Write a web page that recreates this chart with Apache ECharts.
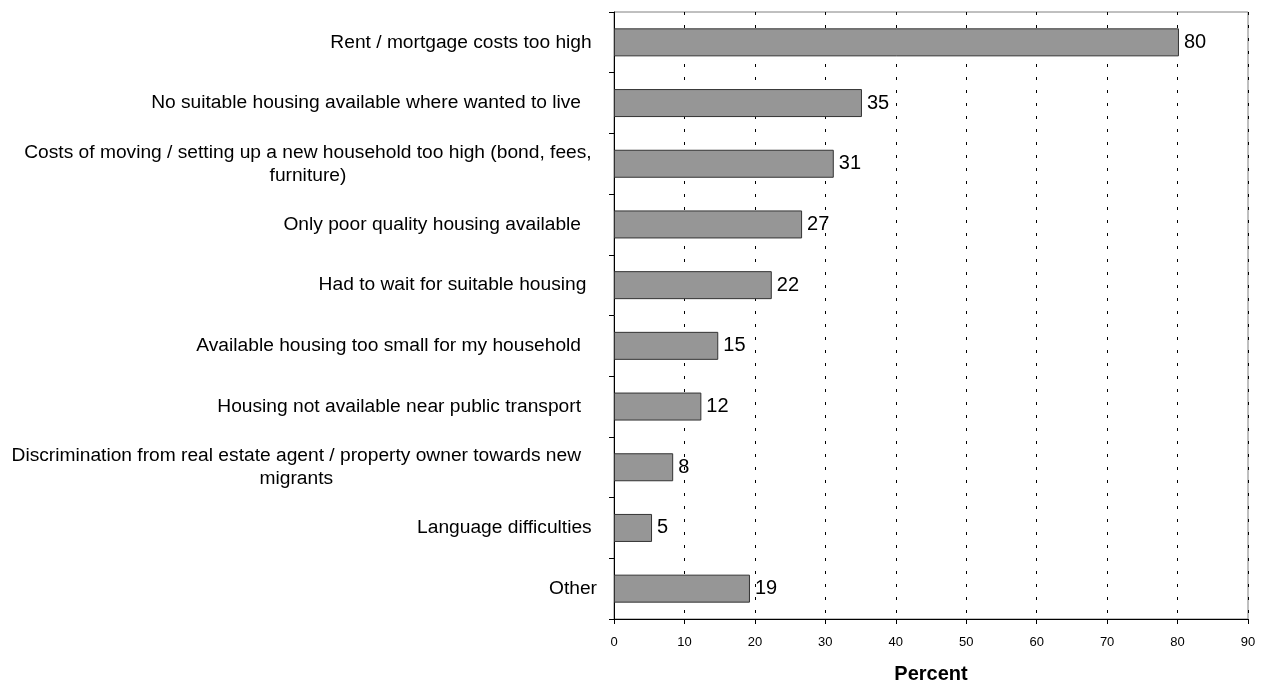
<!DOCTYPE html>
<html>
<head>
<meta charset="utf-8">
<script src="https://cdn.jsdelivr.net/npm/echarts@6/dist/echarts.min.js"></script>
<style>
html,body{margin:0;padding:0;background:#fff;}
#chart{width:1267px;height:684px;}
</style>
</head>
<body>
<div id="chart"></div>
<script>
var categories = [
  "Rent / mortgage costs too high ",
  "No suitable housing available where wanted to live   ",
  "Costs of moving / setting up a new household too high (bond, fees, \nfurniture) ",
  "Only poor quality housing available   ",
  "Had to wait for suitable housing  ",
  "Available housing too small for my household   ",
  "Housing not available near public transport   ",
  "Discrimination from real estate agent / property owner towards new   \nmigrants   ",
  "Language difficulties ",
  "Other"
];
var values = [80.2, 35.2, 31.2, 26.7, 22.4, 14.8, 12.4, 8.4, 5.4, 19.3];
var xTicks = [0, 10, 20, 30, 40, 50, 60, 70, 80, 90];
var xTitle = "Percent";

var chart = echarts.init(document.getElementById('chart'));
var FONT = '"Liberation Sans", Arial, sans-serif';

function richLabel(v) {
  return v.split('\n').map(function (l) { return '{c|' + l + '}'; }).join('\n');
}

chart.setOption({
  animation: false,
  backgroundColor: '#ffffff',
  grid: {
    left: 614, right: 19, top: 12, bottom: 65,
    containLabel: false,
    outerBoundsMode: 'none',
    show: true, borderColor: '#808080', borderWidth: 1
  },
  xAxis: {
    type: 'value',
    min: xTicks[0], max: xTicks[xTicks.length - 1], interval: 10,
    name: xTitle,
    nameLocation: 'middle',
    nameGap: 45,
    nameTextStyle: { fontFamily: FONT, fontSize: 20, fontWeight: 'bold', color: '#000' },
    axisLine: { show: true, lineStyle: { color: '#000', width: 1 } },
    axisTick: { show: true, length: 5, lineStyle: { color: '#000' } },
    axisLabel: { fontFamily: FONT, fontSize: 13, color: '#000', margin: 17 },
    splitLine: { show: true, lineStyle: { color: '#000', type: [3, 10], width: 1 } }
  },
  yAxis: {
    type: 'category',
    data: categories,
    inverse: true,
    axisLine: { show: true, lineStyle: { color: '#000', width: 1 } },
    axisTick: { show: true, length: 5, lineStyle: { color: '#000' } },
    axisLabel: {
      interval: 0,
      fontFamily: FONT, fontSize: 19.2, color: '#000', margin: 17,
      align: 'right',
      formatter: richLabel,
      rich: { c: { align: 'center', fontFamily: FONT, fontSize: 19.2, color: '#000', lineHeight: 23 } }
    },
    splitLine: { show: false }
  },
  series: [{
    type: 'bar',
    data: values,
    barWidth: 28,
    itemStyle: { color: '#969696', borderColor: '#333333', borderWidth: 1 },
    label: {
      show: true, position: 'right', distance: 5,
      fontFamily: FONT, fontSize: 20, color: '#000',
      formatter: function (p) { return Math.round(p.value); }
    },
    z: 3
  }]
});
</script>
</body>
</html>
